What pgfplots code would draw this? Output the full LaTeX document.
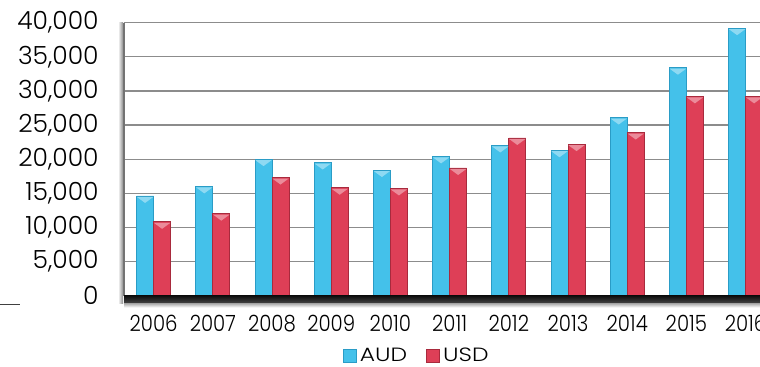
\documentclass[border=0pt]{standalone}
\usepackage{fontspec}
\setmainfont{Poppins Light}
\newfontfamily\xfont[FakeStretch=0.88]{Poppins Light}
\newfontfamily\lfont[FakeStretch=1.22]{Poppins Light}
\usepackage{pgfplots}
\pgfplotsset{compat=1.18}
\usetikzlibrary{shapes.geometric}
\definecolor{aud}{HTML}{44C1EA}
\definecolor{audD}{HTML}{2A9CC6}
\definecolor{usd}{HTML}{DE3F57}
\definecolor{usdD}{HTML}{A82A3D}
\definecolor{gridc}{HTML}{8C8C8C}
\begin{document}
\begin{tikzpicture}
\useasboundingbox (0,0) rectangle (380pt,-183pt);
\clip (0,0) rectangle (380pt,-183pt);
\begin{axis}[
  at={(62pt,-147.75pt)}, anchor=south west,
  scale only axis, width=325.6pt, height=136.4pt,
  xmin=-0.5, xmax=10.5, ymin=0, ymax=40000,
  ybar=0pt, bar width=8.5pt,
  clip=false,
  xtick={0,...,10},
  xticklabels={2006,2007,2008,2009,2010,2011,2012,2013,2014,2015,2016},
  ytick={0,5000,10000,15000,20000,25000,30000,35000,40000},
  scaled y ticks=false,
  /pgf/number format/1000 sep={,},
  /pgf/number format/assume math mode=true,
  ymajorgrids, grid style={gridc, line width=0.6pt},
  axis line style={draw=none},
  major tick length=0pt,
  yticklabel style={anchor=east, inner sep=0pt, xshift=-12.5pt, font=\fontsize{12.5}{12.5}\selectfont},
  xticklabel style={anchor=north, inner sep=0pt, yshift=-9.6pt, font=\xfont\fontsize{11.2}{11.2}\selectfont},
  legend columns=2,
  legend style={at={(0.448,-0.222)}, anchor=center, draw=none, fill=none,
    font=\lfont\fontsize{9.6}{9.6}\selectfont, inner sep=0pt,
    nodes={inner sep=0pt},
    /tikz/every odd column/.append style={column sep=1.6pt},
    /tikz/every even column/.append style={column sep=9.5pt}},
  legend image code/.code={\path[#1] (0pt,-3.25pt) rectangle (6.5pt,3.25pt);},
  nodes near coords={},
  every node near coord/.append style={shape=isosceles triangle, shape border rotate=-90,
    isosceles triangle stretches, minimum width=8.2pt, minimum height=3pt,
    inner sep=0pt, fill=white, fill opacity=0.4, draw=none, anchor=lower side, yshift=-0.3pt},
]
\addplot[draw=audD, line width=0.4pt, fill=aud] coordinates {
(0,14600) (1,16000) (2,20000) (3,19500) (4,18400) (5,20400) (6,22000) (7,21300) (8,26100) (9,33400) (10,39200)};
\addplot[draw=usdD, line width=0.4pt, fill=usd] coordinates {
(0,10800) (1,12000) (2,17300) (3,15800) (4,15700) (5,18700) (6,23100) (7,22200) (8,23900) (9,29200) (10,29200)};
\legend{AUD,USD}
\shade[left color=white, right color=black!45] ([xshift=-3pt,yshift=-4pt]rel axis cs:0,0) rectangle ([xshift=-0.5pt]rel axis cs:0,1);
\draw[black!55, line width=1pt] (rel axis cs:0,0) -- (rel axis cs:0,1);
\shade[top color=black!40, bottom color=white] ([yshift=-6pt]rel axis cs:0,0) rectangle ([yshift=-3.5pt]rel axis cs:1,0);
\shade[top color=black!95, bottom color=black!75] ([yshift=-3.5pt]rel axis cs:0,0) rectangle (rel axis cs:1,0);
\end{axis}
\draw[black!75, line width=0.5pt] (0,-152.25pt) -- (10pt,-152.25pt);
\end{tikzpicture}
\end{document}
